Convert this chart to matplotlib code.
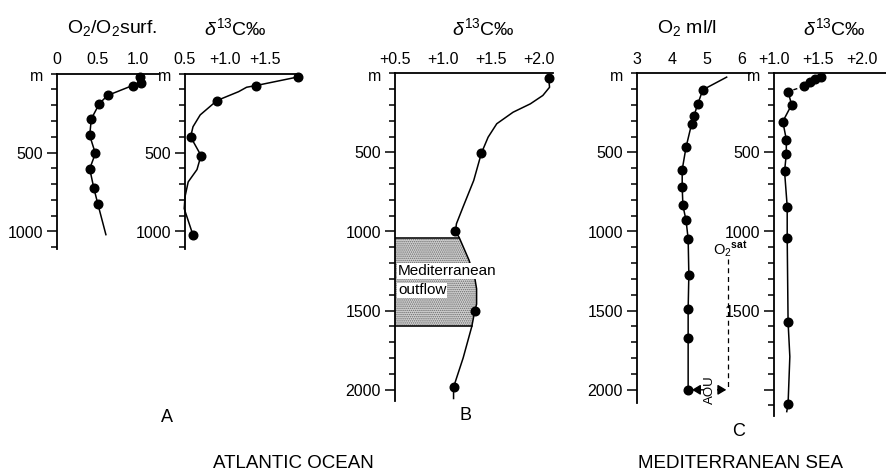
import numpy as np
import matplotlib.pyplot as plt
from matplotlib.ticker import MultipleLocator

plt.rcParams['font.family'] = ['Liberation Sans', 'DejaVu Sans']
plt.rcParams['mathtext.fontset'] = 'custom'
plt.rcParams['mathtext.rm'] = 'Liberation Sans'
plt.rcParams['mathtext.it'] = 'Liberation Sans:italic'
plt.rcParams['mathtext.bf'] = 'Liberation Sans:bold'

W, H = 887, 473
PX_PER_M = 0.158   # vertical scale shared by all profiles
TOP = 73.5         # sea surface, pixels from the top

# ------------------------------ Atlantic: O2/O2surf ------------------------------#
a_o2 = [1.02, 1.03, 0.93, 0.62, 0.52, 0.42, 0.40, 0.47, 0.40, 0.45, 0.50]
a_o2_depth = [25, 60, 76, 139, 190, 287, 392, 506, 603, 723, 825]
a_o2_tail = ([0.50, 0.60], [825, 1020])

# ------------------------------ Atlantic: d13C ------------------------------#
a_c13 = [1.91, 1.39, 0.90, 0.57, 0.70, 0.60]
a_c13_depth = [22, 76, 171, 401, 519, 1023]
a_c13_line = [1.91, 1.39, 1.27, 1.17, 0.90, 0.69, 0.60, 0.57, 0.70, 0.65, 0.54, 0.50, 0.49, 0.60]
a_c13_line_depth = [22, 76, 87, 115, 171, 262, 337, 401, 519, 608, 686, 780, 855, 1023]

# ------------------------------ Atlantic (B): d13C with outflow ------------------------------#
b_c13 = [2.10, 1.40, 1.13, 1.33, 1.11]
b_c13_depth = [27, 504, 998, 1506, 1985]
b_line = [2.10, 2.11, 2.04, 1.91, 1.73, 1.56, 1.47, 1.40, 1.32, 1.21, 1.14, 1.13,
          1.17, 1.27, 1.33, 1.35, 1.35, 1.33, 1.30, 1.21, 1.11, 1.11]
b_line_depth = [27, 87, 139, 192, 245, 318, 403, 504, 677, 843, 951, 998,
                1040, 1180, 1290, 1363, 1460, 1506, 1601, 1800, 1985, 2057]
outflow_top, outflow_bottom = 12, 18   # indices into b_line

# ------------------------------ Mediterranean: O2 ml/l ------------------------------#
m_o2 = [4.89, 4.74, 4.64, 4.57, 4.41, 4.30, 4.30, 4.32, 4.41, 4.47, 4.49, 4.47, 4.47, 4.47]
m_o2_depth = [103, 196, 266, 318, 466, 609, 719, 835, 930, 1046, 1274, 1489, 1675, 2002]
m_o2_surface = (5.57, 23)
o2_sat = 5.62
o2_sat_depth = [1172, 1990]

# ------------------------------ Mediterranean: d13C ------------------------------#
m_c13 = [1.53, 1.47, 1.41, 1.34, 1.16, 1.20, 1.10, 1.14, 1.14, 1.12, 1.15, 1.15, 1.16, 1.16]
m_c13_depth = [19, 34, 55, 82, 114, 198, 304, 418, 508, 620, 842, 1040, 1574, 2090]
m_c13_deep = ([1.16, 1.18, 1.16, 1.145], [1574, 1792, 2090, 2140])

fig = plt.figure(figsize=(W / 100, H / 100), dpi=100)


def profile_axes(left_px, x0, x1, px_per_unit, max_depth, xticks, xlabels,
                 yticks, ylabels):
    width = (x1 - x0) * px_per_unit
    height = max_depth * PX_PER_M
    ax = fig.add_axes([left_px / W, 1 - (TOP + height) / H, width / W, height / H])
    ax.set_xlim(x0, x1)
    ax.set_ylim(max_depth, 0)
    for s in ['right', 'bottom']:
        ax.spines[s].set_visible(False)
    for s in ['left', 'top']:
        ax.spines[s].set_linewidth(1.3)
    ax.patch.set_visible(False)
    ax.xaxis.set_ticks_position('top')
    ax.set_xticks(xticks)
    ax.set_xticklabels(xlabels)
    ax.tick_params(axis='x', length=0, pad=5, labelsize=11.5)
    ax.set_yticks(yticks)
    ax.set_yticklabels(ylabels)
    ax.yaxis.set_minor_locator(MultipleLocator(100))
    ax.tick_params(axis='y', which='major', length=7, width=1.1, pad=3, labelsize=11.5)
    ax.tick_params(axis='y', which='minor', length=4, width=1.1)
    ax.annotate('m', xy=(0, 1), xycoords='axes fraction', xytext=(-10, -2),
                textcoords='offset points', ha='right', va='center', fontsize=11.5)
    return ax


dot = dict(marker='o', ms=6.2, color='black', lw=0, clip_on=False, zorder=4)
line = dict(color='black', lw=1.1, clip_on=False, zorder=3)

# A: O2 / O2 surface
ax = profile_axes(57.3, 0, 1.25, 81, 1110, [0, 0.5, 1.0], ['0', '0.5', '1.0'],
                  [500, 1000], ['500', '1000'])
ax.plot(a_o2, a_o2_depth, **line)
ax.plot(*a_o2_tail, **line)
ax.plot(a_o2, a_o2_depth, **dot)

# A: d13C
ax = profile_axes(185, 0.5, 1.94, 80, 1110, [0.5, 1.0, 1.5], ['0.5', '+1.0', '+1.5'],
                  [500, 1000], ['500', '1000'])
ax.plot(a_c13_line, a_c13_line_depth, **line)
ax.plot(a_c13, a_c13_depth, **dot)

# B: d13C with Mediterranean outflow band
ax = profile_axes(395, 0.5, 2.15, 96, 2075, [0.5, 1.0, 1.5, 2.0],
                  ['+0.5', '+1.0', '+1.5', '+2.0'],
                  [500, 1000, 1500, 2000], ['500', '1000', '1500', '2000'])
band_x = b_line[outflow_top:outflow_bottom + 1]
band_d = b_line_depth[outflow_top:outflow_bottom + 1]
plt.rcParams['hatch.color'] = '#6a6a6a'
plt.rcParams['hatch.linewidth'] = 0.7
ax.fill_betweenx(band_d, 0.5, band_x, facecolor='#d2d2d2', hatch='........',
                 edgecolor='#6a6a6a', lw=0, zorder=1)
ax.plot([0.5, band_x[0]], [band_d[0]] * 2, color='black', lw=1.1, zorder=3)
ax.plot([0.5, band_x[-1]], [band_d[-1]] * 2, color='black', lw=1.1, zorder=3)
ax.plot(b_line, b_line_depth, **line)
ax.plot(b_c13, b_c13_depth, **dot)
ax.text(0.53, 1250, 'Mediterranean', fontsize=11, ha='left', va='center', zorder=5,
        bbox=dict(facecolor='white', edgecolor='none', pad=0.4))
ax.text(0.53, 1372, 'outflow', fontsize=11, ha='left', va='center', zorder=5,
        bbox=dict(facecolor='white', edgecolor='none', pad=0.4))

# C: O2 ml/l
ax = profile_axes(636.7, 3, 6.24, 35, 2085, [3, 4, 5, 6], ['3', '4', '5', '6'],
                  [500, 1000, 1500, 2000], ['500', '1000', '1500', '2000'])
ax.plot([m_o2_surface[0]] + m_o2, [m_o2_surface[1]] + m_o2_depth, **line)
ax.plot(m_o2, m_o2_depth, **dot)
ax.plot([o2_sat, o2_sat], o2_sat_depth, color='black', lw=0.9, ls=(0, (4, 3)))
ax.text(5.68, 1112, r'O$_2$$^{\mathbf{sat}}$', fontsize=10.5, ha='center', va='center')
ax.annotate('', xy=(4.58, m_o2_depth[-1]), xytext=(5.56, m_o2_depth[-1]),
            arrowprops=dict(arrowstyle='<|-|>,head_length=0.5,head_width=0.3',
                            color='black', lw=1.0, shrinkA=0, shrinkB=0))
ax.text(5.10, m_o2_depth[-1], 'AOU', rotation=90, fontsize=9.5, ha='center',
        va='center', bbox=dict(facecolor='white', edgecolor='none', pad=0.5))

# C: d13C
ax = profile_axes(774, 1.0, 2.28, 88, 2165, [1.0, 1.5, 2.0], ['+1.0', '+1.5', '+2.0'],
                  [500, 1000, 1500, 2000], ['500', '1000', '1500', ''])
ax.plot(m_c13[:4], m_c13_depth[:4], **line)
ax.plot(m_c13[3:5], m_c13_depth[3:5], color='black', lw=1.0, ls=(0, (3, 2)))
ax.plot(m_c13[4:12], m_c13_depth[4:12], **line)
ax.plot(m_c13[11:13], m_c13_depth[11:13], **line)
ax.plot(*m_c13_deep, **line)
ax.plot(m_c13, m_c13_depth, **dot)

# column headings
head = dict(fontsize=14, ha='center', va='center')
fig.text(112 / W, 1 - 28 / H, r'O$_2$/O$_2$surf.', **head)
fig.text(235 / W, 1 - 28 / H, r'$\delta^{13}$C‰', **head)
fig.text(483 / W, 1 - 28 / H, r'$\delta^{13}$C‰', **head)
fig.text(687 / W, 1 - 28 / H, r'O$_2$ ml/l', **head)
fig.text(834 / W, 1 - 28 / H, r'$\delta^{13}$C‰', **head)

# panel letters and regions
fig.text(167 / W, 1 - 417 / H, 'A', fontsize=13, ha='center', va='center')
fig.text(466 / W, 1 - 415 / H, 'B', fontsize=13, ha='center', va='center')
fig.text(739 / W, 1 - 431 / H, 'C', fontsize=13, ha='center', va='center')
fig.text(293 / W, 1 - 463 / H, 'ATLANTIC OCEAN', fontsize=13.5, ha='center', va='center')
fig.text(741 / W, 1 - 463 / H, 'MEDITERRANEAN SEA', fontsize=13.5, ha='center', va='center')

fig.savefig('out.png', dpi=100)
